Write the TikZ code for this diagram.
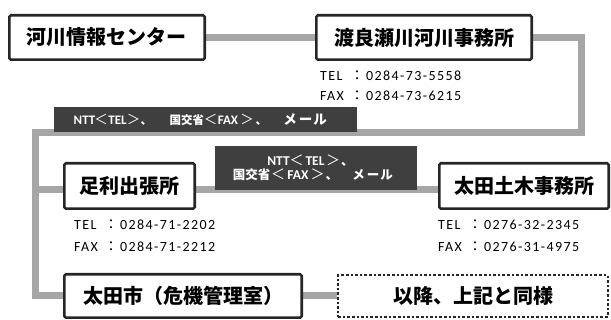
\documentclass[tikz,border=0pt]{standalone}
\usepackage{fontspec}
\usetikzlibrary{backgrounds}
\newfontfamily\jp{Noto Sans CJK JP}
\newfontfamily\calib[LetterSpace=10]{Carlito}
\newfontfamily\calibb{Carlito}
\definecolor{linegray}{HTML}{A6A6A6}
\definecolor{boxblack}{HTML}{262626}
\definecolor{lblgray}{HTML}{3F3F3F}
\newcommand{\lta}[1]{{\calibb\bfseries\fontsize{13}{13}\selectfont #1}}
\newcommand{\ltb}[1]{{\calibb\bfseries\fontsize{13.5}{14}\selectfont #1}}
\newcommand{\lga}[1]{{\jp\mdseries\fontsize{13.5}{13}\selectfont #1}}
\newcommand{\lgb}[1]{{\jp\mdseries\fontsize{14}{14}\selectfont #1}}
\newcommand{\mb}[2]{\makebox[#1pt][c]{#2}}
\newcommand{\mbl}[3]{\makebox[#1pt][l]{\hspace{#2pt}#3}}
\begin{document}
\begin{tikzpicture}[x=1pt,y=-1pt,
  conn/.style={draw=linegray, line width=7pt},
  bigbox/.style={draw=boxblack, line width=2.6pt, fill=white, rounded corners=1.5pt, inner sep=0pt,
    font=\jp\bfseries\fontsize{20}{24}\selectfont},
  dotbox/.style={draw=boxblack, line width=2.4pt, dash pattern=on 2.6pt off 2pt, fill=white, inner sep=0pt,
    font=\jp\bfseries\fontsize{20}{24}\selectfont},
  lbl/.style={fill=lblgray, text=white, inner sep=0pt, align=center},
  info/.style={anchor=west, inner sep=0pt, font=\calib\fontsize{14}{16}\selectfont},
  colon/.style={anchor=west, inner sep=0pt, font=\jp\fontsize{14}{16}\selectfont}
]
\useasboundingbox (0,0) rectangle (611,320);

\coordinate (c1) at (581,37);
\coordinate (c2) at (581,133);
\coordinate (c3) at (35,133);
\coordinate (c4) at (35,190);
\coordinate (c5) at (35,296);

% boxes
\node[bigbox, minimum width=195.4pt, minimum height=44.4pt] (b1) at (107,37.5) {河川情報センター};
\node[bigbox, minimum width=215.4pt, minimum height=44.4pt] (b2) at (424,37.5) {渡良瀬川河川事務所};
\node[bigbox, minimum width=130.4pt, minimum height=45.4pt] (ash) at (129.5,186) {足利出張所};
\node[bigbox, minimum width=169.4pt, minimum height=45.4pt] (dob) at (524,186) {太田土木事務所};
\node[bigbox, minimum width=237.4pt, minimum height=43.4pt] (tai) at (183,296) {太田市（危機管理室）};
\node[dotbox, minimum width=269.6pt, minimum height=41.6pt] (ig) at (473,296) {以降、上記と同様};

% connectors
\begin{scope}[on background layer]
\draw[conn] (b1.east) -- (b2.west);
\draw[conn] (b2.east) -- (b2.east -| c1) -- (c2) -- (c3) -- (c5) -- (tai.west);
\draw[conn] (c4) -- ([yshift=-4pt]ash.west);
\draw[conn] ([yshift=-4pt]ash.east) -- ([yshift=-4pt]dob.west);
\draw[conn] (tai.east) -- (ig.west);
\end{scope}

% labels
\node[lbl, minimum width=303pt, minimum height=25pt,
      font=\jp\bfseries\fontsize{11.5}{13}\selectfont] (l1) at (205.5,119.5)
  {\mb{20}{\lta{NTT}}\mb{13}{\lga{＜}}\mb{20}{\lta{TEL}}\mb{12}{\lga{＞}}\mbl{30}{1}{、}%
   \mb{35}{国交省}\mb{12}{\lga{＜}}\mb{23}{\lta{FAX}}\mb{15}{\lga{＞}}\mbl{28}{1}{、}%
   \makebox[54pt][l]{\hspace{1pt}{\fontsize{13.5}{13}\selectfont メ\hspace{2pt}ー\hspace{1pt}ル}}};
\node[lbl, minimum width=202pt, minimum height=44pt,
      font=\jp\bfseries\fontsize{12.5}{14.5}\selectfont] (l2) at (316,168)
  {\mb{21}{\ltb{NTT}}\mb{15}{\lgb{＜}}\mb{22}{\ltb{TEL}}\mb{14}{\lgb{＞}}\mbl{24}{1}{、}\\
   \mb{38}{国交省}\mb{15}{\lgb{＜}}\mb{25}{\ltb{FAX}}\mb{14}{\lgb{＞}}\mbl{26}{1}{、}%
   \makebox[49pt][l]{\hspace{2pt}メ\hspace{2pt}ー\hspace{1pt}ル}};

% info texts
\node[info] (t1) at (320,76) {TEL};
\node[colon] (k1) at (350,76) {：};
\node[info] (n1) at (366,76) {0284-73-5558};
\node[info] (t2) at (320,96) {FAX};
\node[colon] (k2) at (350,96) {：};
\node[info] (n2) at (366,96) {0284-73-6215};

\node[info] (t3) at (74,225) {TEL};
\node[colon] (k3) at (104,225) {：};
\node[info] (n3) at (120,225) {0284-71-2202};
\node[info] (t4) at (74,247) {FAX};
\node[colon] (k4) at (104,247) {：};
\node[info] (n4) at (120,247) {0284-71-2212};

\node[info] (t5) at (438,225) {TEL};
\node[colon] (k5) at (468,225) {：};
\node[info] (n5) at (484,225) {0276-32-2345};
\node[info] (t6) at (438,247) {FAX};
\node[colon] (k6) at (468,247) {：};
\node[info] (n6) at (484,247) {0276-31-4975};
\end{tikzpicture}
\end{document}
